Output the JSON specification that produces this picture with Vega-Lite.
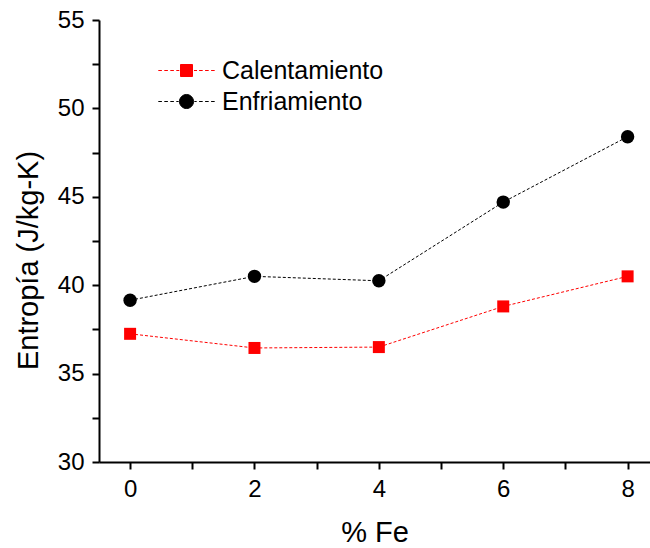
{
  "$schema": "https://vega.github.io/schema/vega-lite/v6.json",
  "width": 551,
  "height": 442,
  "autosize": {"type": "none"},
  "padding": {"left": 99, "top": 20, "right": 0, "bottom": 86},
  "background": "white",
  "config": {
    "view": {"stroke": null},
    "font": "Liberation Sans",
    "axis": {
      "grid": false,
      "domainColor": "black",
      "domainWidth": 2,
      "tickColor": "black",
      "tickWidth": 2,
      "tickSize": 7,
      "labelFont": "Liberation Sans",
      "labelFontSize": 24,
      "labelColor": "black",
      "labelPadding": 8,
      "titleFont": "Liberation Sans",
      "titleFontSize": 29,
      "titleFontWeight": "normal",
      "titleColor": "black"
    }
  },
  "data": {
    "values": [
      {"fe": 0, "serie": "Calentamiento", "s": 37.25},
      {"fe": 2, "serie": "Calentamiento", "s": 36.45},
      {"fe": 4, "serie": "Calentamiento", "s": 36.5},
      {"fe": 6, "serie": "Calentamiento", "s": 38.8},
      {"fe": 8, "serie": "Calentamiento", "s": 40.5},
      {"fe": 0, "serie": "Enfriamiento", "s": 39.15},
      {"fe": 2, "serie": "Enfriamiento", "s": 40.5},
      {"fe": 4, "serie": "Enfriamiento", "s": 40.25},
      {"fe": 6, "serie": "Enfriamiento", "s": 44.7},
      {"fe": 8, "serie": "Enfriamiento", "s": 48.4}
    ]
  },
  "encoding": {
    "x": {
      "field": "fe",
      "type": "quantitative",
      "scale": {"domain": [-0.5, 8.36], "nice": false, "zero": false},
      "axis": {
        "title": "% Fe",
        "values": [0, 1, 2, 3, 4, 5, 6, 7, 8],
        "labelExpr": "datum.value % 2 === 0 ? datum.label : ''",
        "titleBaseline": "alphabetic",
        "titleY": 79,
        "encode": {"ticks": {"update": {"y2": {"signal": "datum.value % 2 === 0 ? 7 : 4"}}}}
      }
    },
    "y": {
      "field": "s",
      "type": "quantitative",
      "scale": {"domain": [30, 55], "nice": false, "zero": false},
      "axis": {
        "title": "Entropía (J/kg-K)",
        "values": [30, 32.5, 35, 37.5, 40, 42.5, 45, 47.5, 50, 52.5, 55],
        "labelExpr": "datum.value % 5 === 0 ? datum.label : ''",
        "titleBaseline": "alphabetic",
        "titleX": -62,
        "titleY": 240,
        "encode": {"ticks": {"update": {"x2": {"signal": "datum.value % 5 === 0 ? -7 : -4"}}}}
      }
    },
    "color": {
      "field": "serie",
      "type": "nominal",
      "scale": {"domain": ["Calentamiento", "Enfriamiento"], "range": ["#ff0000", "#000000"]},
      "legend": {
        "title": null,
        "orient": "none",
        "legendX": 75,
        "legendY": 38,
        "padding": 0,
        "labelFont": "Liberation Sans",
        "labelFontSize": 25,
        "labelColor": "black",
        "labelLimit": 400,
        "labelOffset": 23,
        "symbolSize": 144,
        "rowPadding": 5,
        "encode": {
          "symbols": {
            "update": {
              "shape": {"signal": "datum.value === 'Calentamiento' ? 'M-4.7,0h0.6M-3.7,0h0.6M-2.7,0h0.6M-1.7,0h0.5M-1,-1h2v2h-2zM1.25,0h0.5M2.1,0h0.6M3.1,0h0.6M4.1,0h0.6' : 'M-4.7,0h0.6M-3.7,0h0.6M-2.7,0h0.6M-1.7,0h0.4M1.17,0A1.17,1.17,0,1,1,-1.17,0A1.17,1.17,0,1,1,1.17,0ZM1.3,0h0.4M2.1,0h0.6M3.1,0h0.6M4.1,0h0.6'"},
              "fill": {"signal": "datum.value === 'Calentamiento' ? '#ff0000' : '#000000'"},
              "stroke": {"signal": "datum.value === 'Calentamiento' ? '#ff0000' : '#000000'"},
              "strokeWidth": {"value": 1},
              "strokeDash": {"value": []},
              "opacity": {"value": 1}
            }
          }
        }
      }
    }
  },
  "layer": [
    {
      "mark": {"type": "line", "strokeWidth": 1, "strokeDash": [3, 2]}
    },
    {
      "transform": [{"filter": "datum.serie === 'Calentamiento'"}],
      "mark": {"type": "point", "filled": true, "opacity": 1, "shape": "square", "size": 144}
    },
    {
      "transform": [{"filter": "datum.serie === 'Enfriamiento'"}],
      "mark": {"type": "point", "filled": true, "opacity": 1, "shape": "circle", "size": 180}
    }
  ]
}
